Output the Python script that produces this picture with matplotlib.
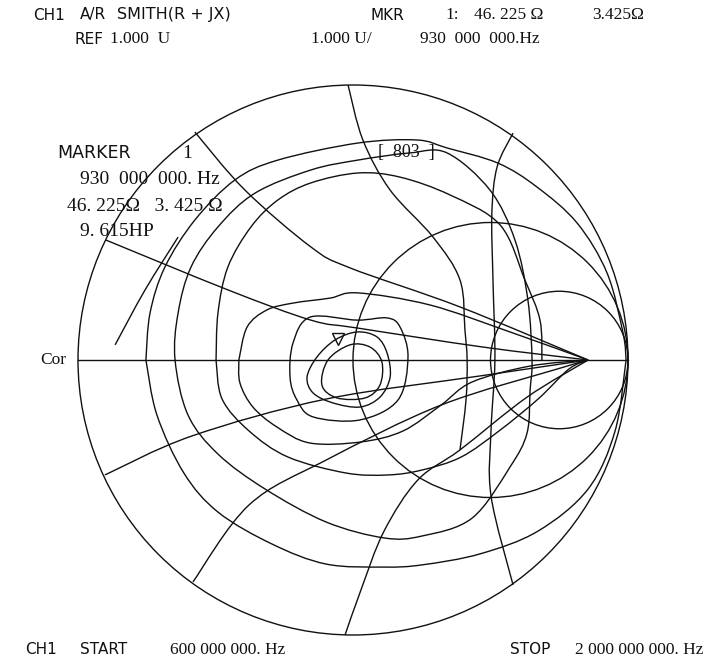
import numpy as np
import matplotlib
matplotlib.use("Agg")
import matplotlib.pyplot as plt
from matplotlib.path import Path
from matplotlib.patches import PathPatch, Circle
from matplotlib import transforms

# ── DATA (reflection coefficient plane) ───────────────────────────────
Z0 = 50.0
marker_z = complex(46.225, 3.425)          # MKR 1 : R + jX
resistance_circles = [1.0, 3.0]            # grid circles visible

trace_start = [(-0.865, 0.055), (-0.756, 0.255), (-0.636, 0.447)]

loop_a_upper = [(-0.753, 0.0), (-0.738, 0.171), (-0.684, 0.338), (-0.575, 0.509),
                (-0.429, 0.655), (-0.273, 0.727), (0.018, 0.789), (0.233, 0.800),
                (0.342, 0.771), (0.527, 0.716), (0.669, 0.629), (0.815, 0.498),
                (0.924, 0.316), (0.982, 0.098), (0.993, 0.0)]
loop_a_lower = [(-0.753, 0.0), (-0.713, -0.200), (-0.615, -0.411), (-0.491, -0.553),
                (-0.295, -0.669), (-0.098, -0.742), (0.113, -0.753), (0.251, -0.745),
                (0.462, -0.705), (0.673, -0.622), (0.855, -0.469), (0.953, -0.258),
                (0.993, 0.0)]
loop_b = [(-0.647, 0.0), (-0.636, 0.171), (-0.589, 0.338), (-0.491, 0.484),
          (-0.356, 0.607), (-0.153, 0.691), (0.018, 0.727), (0.207, 0.753),
          (0.342, 0.753), (0.498, 0.618), (0.589, 0.436), (0.636, 0.218),
          (0.651, 0.0), (0.644, -0.109), (0.633, -0.265), (0.571, -0.389),
          (0.433, -0.575), (0.251, -0.640), (0.113, -0.647), (-0.098, -0.589),
          (-0.320, -0.469), (-0.491, -0.342), (-0.600, -0.200)]
loop_c_upper = [(-0.498, 0.0), (-0.491, 0.171), (-0.455, 0.338), (-0.371, 0.484),
                (-0.273, 0.582), (-0.153, 0.644), (0.018, 0.680), (0.171, 0.665),
                (0.353, 0.600), (0.535, 0.491), (0.625, 0.291), (0.680, 0.145),
                (0.687, 0.0)]
loop_c_lower = [(-0.498, 0.0), (-0.476, -0.142), (-0.378, -0.258), (-0.236, -0.353),
                (-0.025, -0.411), (0.127, -0.418), (0.251, -0.400), (0.393, -0.353),
                (0.531, -0.258), (0.673, -0.142), (0.785, -0.033), (0.855, 0.0)]
loop_d_upper = [(-0.415, 0.0), (-0.385, 0.120), (-0.313, 0.182), (-0.218, 0.207),
                (-0.084, 0.225), (0.018, 0.244), (0.280, 0.200), (0.571, 0.102),
                (0.855, 0.0)]
loop_d_lower = [(-0.415, 0.0), (-0.411, -0.084), (-0.364, -0.171), (-0.276, -0.244),
                (-0.156, -0.302), (0.029, -0.298), (0.182, -0.258), (0.320, -0.164),
                (0.433, -0.080), (0.644, -0.022), (0.855, 0.0)]

line_1 = [(-0.575, 0.829), (-0.393, 0.618), (-0.153, 0.411), (-0.011, 0.335),
          (0.389, 0.193), (0.855, 0.0)]
line_2 = [(-0.898, 0.436), (-0.455, 0.255), (-0.153, 0.145), (0.018, 0.116),
          (0.473, 0.047), (0.855, 0.0)]
line_1_low = [(-0.582, -0.807), (-0.378, -0.527), (-0.098, -0.364), (0.320, -0.164),
              (0.742, -0.033), (0.855, 0.0)]
line_2_low = [(-0.902, -0.418), (-0.585, -0.276), (-0.098, -0.142), (0.462, -0.058),
              (0.855, 0.0)]
arc_top = [(-0.018, 1.0), (0.036, 0.800), (0.135, 0.618), (0.291, 0.447),
           (0.389, 0.291), (0.407, 0.109), (0.415, 0.0), (0.411, -0.145),
           (0.389, -0.327)]
arc_bottom = [(-0.029, -1.0), (0.029, -0.836), (0.113, -0.622), (0.236, -0.436),
              (0.389, -0.327), (0.633, -0.135), (0.855, 0.0)]
arc_right = [(0.582, 0.825), (0.524, 0.702), (0.505, 0.535), (0.509, 0.291),
             (0.516, 0.0), (0.502, -0.255), (0.502, -0.495), (0.582, -0.818)]

centre_1 = [(-0.156, 0.156), (-0.218, 0.062), (-0.229, -0.062), (-0.204, -0.145),
            (-0.145, -0.207), (0.025, -0.218), (0.164, -0.145), (0.200, 0.011),
            (0.171, 0.120), (0.124, 0.153), (0.015, 0.145)]
centre_2 = [(0.015, 0.102), (-0.065, 0.073), (-0.131, 0.011), (-0.167, -0.062),
            (-0.145, -0.120), (-0.073, -0.156), (0.025, -0.171), (0.098, -0.135),
            (0.135, -0.062), (0.124, 0.025), (0.087, 0.084)]
centre_3 = [(-0.011, 0.055), (-0.091, 0.0), (-0.113, -0.091), (-0.058, -0.138),
            (0.044, -0.138), (0.098, -0.091), (0.105, -0.007), (0.062, 0.047)]

open_curves = [trace_start, loop_a_upper, loop_a_lower, loop_c_upper, loop_c_lower,
               loop_d_upper, loop_d_lower, line_1, line_2, line_1_low, line_2_low,
               arc_top, arc_bottom, arc_right]
closed_curves = [loop_b, centre_1, centre_2, centre_3]

LW = 1.0
INK = "#111111"


def smooth_path(pts, closed=False):
    # Catmull-Rom through the read points, handed to matplotlib as cubic Beziers
    p = np.asarray(pts, dtype=float)
    n = len(p)
    if closed:
        get = lambda i: p[i % n]
        segs = n
    else:
        get = lambda i: p[min(max(i, 0), n - 1)]
        segs = n - 1
    verts = [get(0)]
    codes = [Path.MOVETO]
    for i in range(segs):
        p0, p1, p2, p3 = get(i - 1), get(i), get(i + 1), get(i + 2)
        verts += [p1 + (p2 - p0) / 6.0, p2 - (p3 - p1) / 6.0, p2]
        codes += [Path.CURVE4] * 3
    return Path(verts, codes)


# ── FIGURE ────────────────────────────────────────────────
W, H = 710, 664
fig = plt.figure(figsize=(W / 100, H / 100), dpi=100)
fig.patch.set_facecolor("white")

cx, cy, R = 353, 360, 275      # chart centre / radius in the picture
lim = 1.05
ax = fig.add_axes([(cx - R * lim) / W, (H - cy - R * lim) / H, 2 * R * lim / W, 2 * R * lim / H])
ax.set_xlim(-lim, lim)
ax.set_ylim(-lim, lim)
ax.axis("off")

# grid
ax.add_patch(Circle((0, 0), 1.0, fill=False, lw=LW, ec=INK))
for r in resistance_circles:
    ax.add_patch(Circle((r / (1 + r), 0), 1 / (1 + r), fill=False, lw=LW, ec=INK))
ax.plot([-1, 1], [0, 0], color=INK, lw=LW)

# trace
for c in open_curves:
    ax.add_patch(PathPatch(smooth_path(c), fill=False, lw=LW, ec=INK))
for c in closed_curves:
    ax.add_patch(PathPatch(smooth_path(c, closed=True), fill=False, lw=LW, ec=INK))

# marker 1
z = marker_z / Z0
g = (z - 1) / (z + 1)
off = transforms.offset_copy(ax.transData, fig=fig, x=-5, y=11, units="dots")
ax.plot([g.real], [g.imag], marker="v", ms=9, mfc="none", mec=INK, mew=1.0,
        transform=off, ls="none")

# ── TEXT ──────────────────────────────────────────────────
SANS = ["DejaVu Sans"]
SERIF = ["Liberation Serif", "DejaVu Serif"]


def put(x, y, s, fam=SANS, size=10.5):
    fig.text(x / W, 1 - y / H, s, ha="left", va="center", family=fam,
             fontsize=size, color=INK)


put(33, 15, "CH1", size=11)
put(80, 15, "A/R", size=11)
put(117, 15, "SMITH(R + JX)", size=11.5)
put(371, 15, "MKR", size=11)
put(445, 15, "1:", fam=SERIF, size=12.5)
put(474, 15, "46. 225 Ω", fam=SERIF, size=12.5)
put(592, 15, "3.425Ω", fam=SERIF, size=12.5)

put(74, 39, "REF", size=11)
put(110, 39, "1.000  U", fam=SERIF, size=12.5)
put(311, 39, "1.000 U/", fam=SERIF, size=12.5)
put(420, 39, "930  000  000.Hz", fam=SERIF, size=12.5)

put(57, 153, "MARKER", size=12.5)
put(182, 153, "1", fam=SERIF, size=14)
put(80, 180, "930  000  000. Hz", fam=SERIF, size=14)
put(67, 206, "46. 225Ω   3. 425 Ω", fam=SERIF, size=14)
put(80, 232, "9. 615HP", fam=SERIF, size=14)

put(378, 152, "[  803  ]", fam=SERIF, size=13)

put(40, 360, "Cor", fam=SERIF, size=12.5)

put(25, 650, "CH1", size=11)
put(80, 650, "START", size=11)
put(170, 650, "600 000 000. Hz", fam=SERIF, size=12.5)
put(510, 650, "STOP", size=11)
put(575, 650, "2 000 000 000. Hz", fam=SERIF, size=12.5)

fig.savefig("out.png", dpi=100, facecolor="white")
